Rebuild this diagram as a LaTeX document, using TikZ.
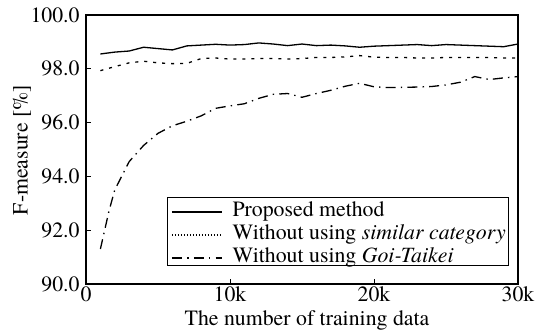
\documentclass[tikz,border=0pt]{standalone}
\usepackage{fontspec}
\setmainfont{texgyretermes}[Extension=.otf, UprightFont=*-regular,
  ItalicFont=*-italic, BoldFont=*-bold]
\usepackage{tikz}

\begin{document}
\begin{tikzpicture}
[x=7.2pt, y=13.45pt,
  every node/.style={font=\fontsize{10.9}{13}\selectfont},
  curve/.style={line width=0.65pt, line join=round},
  proposed/.style={curve},
  nosimilar/.style={curve, dash pattern=on 1.5pt off 3pt},
  nogoi/.style={curve, dash pattern=on 5pt off 2.6pt on 0.7pt off 2.6pt},
  ticklabel/.style={inner sep=1pt}]
  \useasboundingbox (-5.972,88.141) rectangle (31.319,100.558);
  % frame and ticks
  \draw[line width=0.6pt] (0,90) rectangle (30,100);
  \foreach \v in {92,94,96,98}
    \draw[line width=0.5pt] (0,\v) -- ++(2.5pt,0);
  \foreach \k in {10,20}
    \draw[line width=0.5pt] (\k,90) -- ++(0,2.5pt);
  \foreach \v in {90,92,94,96,98,100}
    \node[ticklabel, anchor=east, inner sep=3pt] (y\v) at (0,\v) {\v.0};
  \node[ticklabel, anchor=north] (x0) at (0,90) {0};
  \foreach \k in {10,20,30}
    \node[ticklabel, anchor=north] (x\k) at (\k,90) {\k k};
  \node[rotate=90] (ylabel) at (-4.444,94.98) {F-measure [\%]};
  \node (xlabel) at (15.35,88.66) {The number of training data};
  % results
  \draw[proposed] plot coordinates {(1,98.55) (2,98.62) (3,98.66) (4,98.8)
    (5,98.75) (6,98.7) (7,98.85) (8,98.88) (9,98.91) (10,98.88) (11,98.9)
    (12,98.96) (13,98.92) (14,98.86) (15,98.92) (16,98.86) (17,98.88)
    (18,98.85) (19,98.8) (20,98.84) (21,98.86) (22,98.88) (23,98.9)
    (24,98.86) (25,98.9) (26,98.88) (27,98.86) (28,98.84) (29,98.82)
    (30,98.92)};
  \draw[nosimilar] plot coordinates {(1,97.93) (2,98.08) (3,98.22) (4,98.28)
    (5,98.22) (6,98.19) (7,98.2) (8,98.38) (9,98.4) (10,98.36) (11,98.36)
    (12,98.38) (13,98.38) (14,98.36) (15,98.38) (16,98.42) (17,98.42)
    (18,98.44) (19,98.49) (20,98.43) (21,98.42) (22,98.42) (23,98.4)
    (24,98.4) (25,98.42) (26,98.42) (27,98.42) (28,98.42) (29,98.4)
    (30,98.4)};
  \draw[nogoi] plot coordinates {(1,91.3) (1.6,92.72) (2,93.5) (3,94.55)
    (4,95.15) (5,95.6) (6,95.88) (7,96.05) (8,96.25) (9,96.53) (10,96.62)
    (11,96.7) (12,96.9) (13,97.05) (14,97.08) (15,96.94) (16,97.08)
    (17,97.2) (18,97.35) (19,97.46) (20,97.33) (21,97.3) (22,97.31)
    (23,97.32) (24,97.34) (25,97.4) (26,97.5) (27,97.71) (28,97.6)
    (29,97.66) (30,97.71)};
  % legend
  \draw[line width=0.5pt, fill=white] (5.625,90.669) rectangle (29.31,93.197);
  \node[anchor=mid west, inner sep=0pt] (lprop) at (10.15,92.677) {Proposed method};
  \node[anchor=mid west, inner sep=0pt] (lsim) at (10.15,91.822)
    {Without using \textit{similar category}};
  \node[anchor=mid west, inner sep=0pt] (lgoi) at (10.15,90.967)
    {Without using \textit{Goi-Taikei}};
  \draw[proposed] (5.97,92.677) -- (9.44,92.677);
  \draw[nosimilar, dash pattern=on 0.75pt off 0.75pt] (5.97,91.822) -- (9.44,91.822);
  \draw[nogoi] (5.97,90.967) -- (9.44,90.967);
\end{tikzpicture}
\end{document}
